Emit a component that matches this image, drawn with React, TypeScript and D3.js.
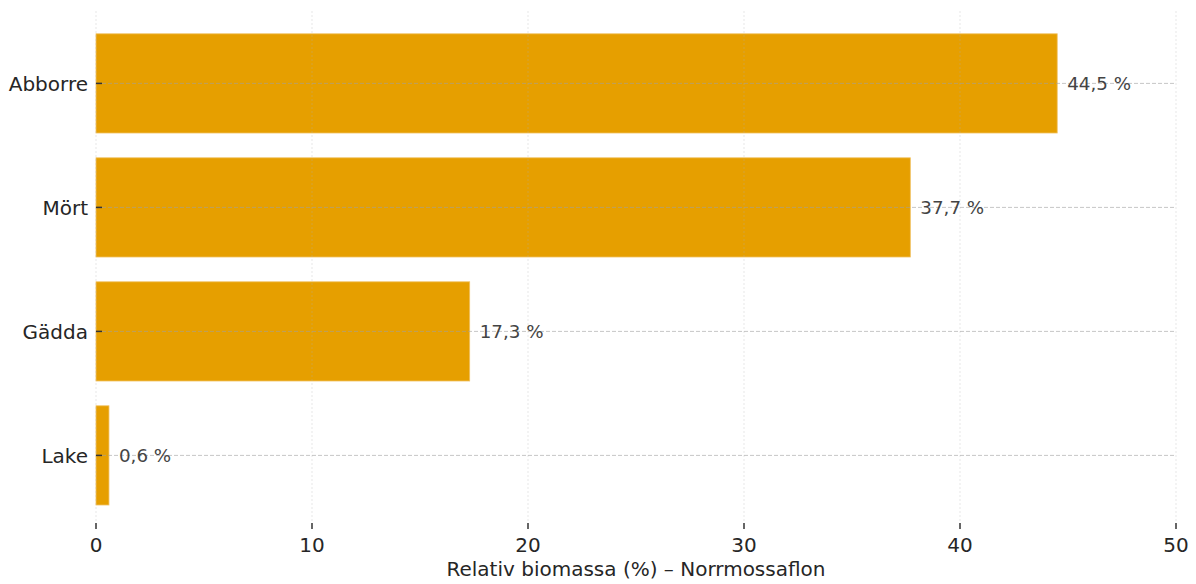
import React from "react";
import * as d3 from "d3";

const categories = ["Abborre", "Mört", "Gädda", "Lake"];
const values = [44.5, 37.7, 17.3, 0.6];
const valueLabels = ["44,5 %", "37,7 %", "17,3 %", "0,6 %"];
const xTicks = [0, 10, 20, 30, 40, 50];
const xLabel = "Relativ biomassa (%) – Norrmossaflon";

const W = 1196;
const H = 584;
const left = 96;
const right = 1176;
const plotTop = 11;
const plotBottom = 523;

export default function App() {
  const x = d3.scaleLinear().domain([0, 50]).range([left, right]);
  const y = d3
    .scaleBand<string>()
    .domain(categories)
    .range([21.4, 517.4])
    .paddingInner(0.2)
    .paddingOuter(0.1);
  const font = "'DejaVu Sans', sans-serif";
  return (
    <svg
      width={W}
      height={H}
      style={{ position: "absolute", left: 0, top: 0, background: "#fff" }}
      fontFamily={font}
    >
      {categories.map((c, i) => (
        <rect
          key={c}
          x={x(0)}
          y={y(c)!}
          width={x(values[i]) - x(0)}
          height={y.bandwidth()}
          fill="#E69F00"
          stroke="#f0c060"
          strokeWidth={0.8}
        />
      ))}
      {xTicks.map((t) => (
        <line
          key={"vg" + t}
          x1={x(t)}
          x2={x(t)}
          y1={plotTop}
          y2={plotBottom}
          stroke="#b0b0b0"
          strokeOpacity={0.35}
          strokeWidth={0.9}
          strokeDasharray="2,2"
        />
      ))}
      {categories.map((c) => (
        <line
          key={"hg" + c}
          x1={left}
          x2={right}
          y1={y(c)! + y.bandwidth() / 2}
          y2={y(c)! + y.bandwidth() / 2}
          stroke="#a0a0a0"
          strokeOpacity={0.6}
          strokeWidth={1}
          strokeDasharray="4,2"
        />
      ))}
      {categories.map((c) => {
        const cy = y(c)! + y.bandwidth() / 2;
        return (
          <g key={"yt" + c}>
            <line x1={left} x2={left + 6} y1={cy} y2={cy} stroke="#333" strokeWidth={1.5} />
            <text
              x={left - 8}
              y={cy + 1}
              textAnchor="end"
              dominantBaseline="central"
              fontSize={20}
              fill="#262626"
            >
              {c}
            </text>
          </g>
        );
      })}
      {xTicks.map((t) => (
        <g key={"xt" + t}>
          <line x1={x(t)} x2={x(t)} y1={plotBottom} y2={plotBottom + 6} stroke="#333" strokeWidth={1.5} />
          <text x={x(t)} y={552} textAnchor="middle" fontSize={20} fill="#262626">
            {t}
          </text>
        </g>
      ))}
      {categories.map((c, i) => (
        <text
          key={"vl" + c}
          x={x(values[i]) + 10}
          y={y(c)! + y.bandwidth() / 2}
          dominantBaseline="central"
          fontSize={18.3}
          fill="#444"
        >
          {valueLabels[i]}
        </text>
      ))}
      <text x={(left + right) / 2} y={576} textAnchor="middle" fontSize={20} fill="#262626">
        {xLabel}
      </text>
    </svg>
  );
}
